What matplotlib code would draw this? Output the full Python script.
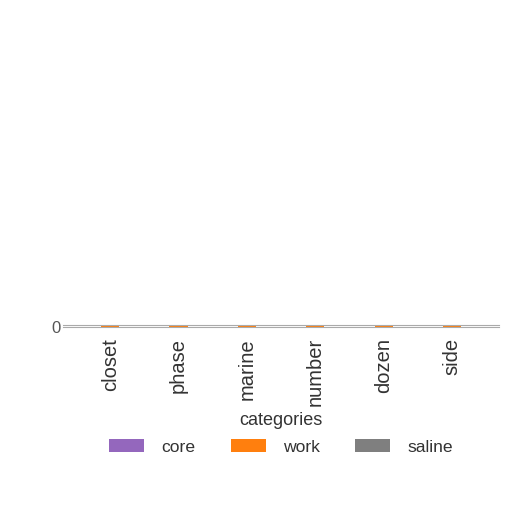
import matplotlib
matplotlib.use("Agg")
import matplotlib.pyplot as plt
import numpy as np

categories = ["closet", "phase", "marine", "number", "dozen", "side"]
series_names = ["core", "work", "saline"]
core = [0.2, 0.2, 0.2, 0.2, 0.2, 0.2]
work = [0.3, 0.3, 0.3, 0.3, 0.3, 0.3]
saline = [0.2, 0.2, 0.2, 0.2, 0.2, 0.2]
colors = ["#9467bd", "#ff7f0e", "#7f7f7f"]

plt.rcParams['font.family'] = ['Liberation Sans', 'DejaVu Sans']

fig = plt.figure(figsize=(5.12, 5.12), dpi=100)
ax = fig.add_axes([0.123, 0.3615, 0.852, 0.004])

x = np.arange(len(categories))
w = 0.8 / 3
for i, (name, vals, c) in enumerate(zip(series_names, [core, work, saline], colors)):
    ax.bar(x + (i - 1) * w, vals, width=w, color=c, label=name, alpha=0.3)

ax.set_ylim(0, 1)
ax.set_yticks([0])
ax.set_yticklabels(["0"], fontsize=12, color="#555555")
ax.set_xticks(x)
ax.set_xticklabels(categories, rotation=90, fontsize=14.5, color="#333333")
ax.tick_params(axis='x', length=0, pad=8)
ax.tick_params(axis='y', length=0, pad=2)
for s in ax.spines.values():
    s.set_color("#aaaaaa")
    s.set_linewidth(0.8)
ax.spines['left'].set_visible(False)
ax.spines['right'].set_visible(False)
ax.set_xlabel("categories", fontsize=13, color="#333333", labelpad=4)

handles, labels = ax.get_legend_handles_labels()
for h in handles:
    for p in h.patches:
        p.set_alpha(1)
leg = fig.legend(handles, labels, loc='center', bbox_to_anchor=(0.549, 0.127), ncol=3,
                 frameon=False, fontsize=12.6, handlelength=2.0, handletextpad=1.0,
                 columnspacing=2.0)
for t in leg.get_texts():
    t.set_color("#333333")

fig.savefig("out.png", dpi=100, facecolor="white")
